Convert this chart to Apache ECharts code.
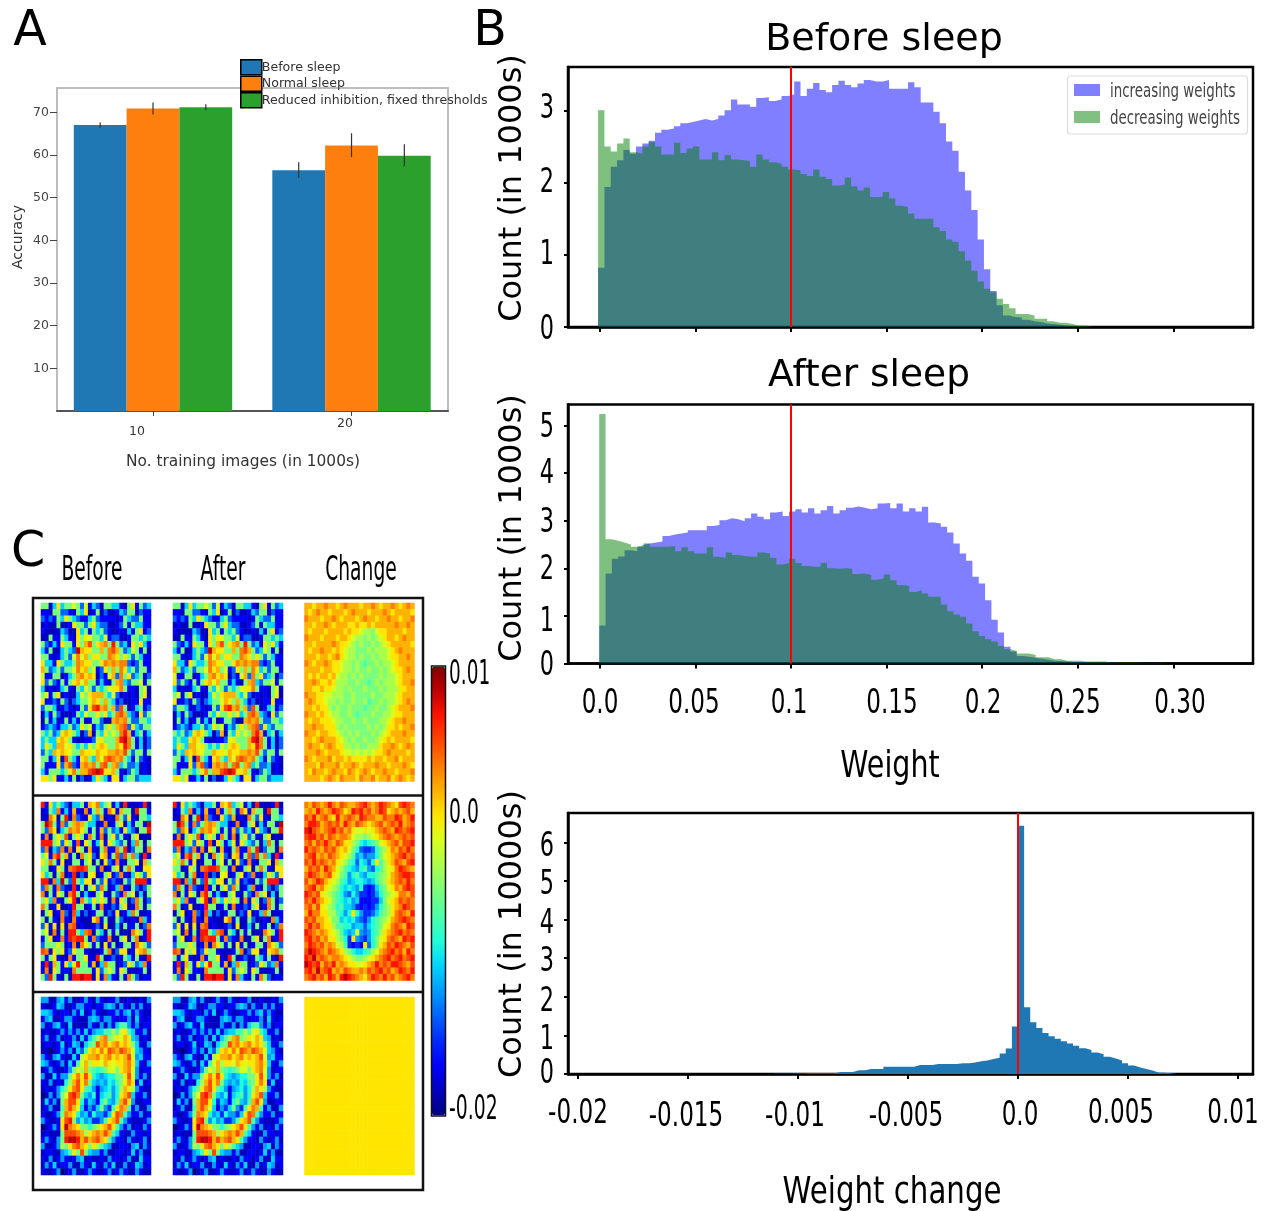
<!DOCTYPE html>
<html><head><meta charset="utf-8">
<style>html,body{margin:0;padding:0;background:#fff}#c{width:1270px;height:1211px;filter:blur(0.6px)}</style>
<script src="https://cdn.jsdelivr.net/npm/echarts@6/dist/echarts.min.js"></script>
</head><body><div id="c"></div>
<script>
// ---------- Panel A ----------
const accGroups = [10, 20];
const accBefore = [67.0, 56.4];
const accNormal = [70.9, 62.2];
const accReduced = [71.2, 59.8];
const accErrLow = [[66.4, 54.6], [69.5, 59.5], [70.5, 57.3]];
const accErrHigh = [[67.6, 58.3], [72.3, 65.1], [71.9, 62.5]];
const accYTicks = [10, 20, 30, 40, 50, 60, 70];

// ---------- Panel B histograms (counts in 1000s, 10000s for the last one) ----------
const histBinWidth = 0.00331;
const incBefore = [.82,1.94,2.22,2.31,2.45,2.4,2.5,2.54,2.58,2.69,2.73,2.75,2.78,2.82,2.84,2.86,2.88,2.86,2.88,2.93,3.0,3.15,3.08,3.08,3.05,3.17,3.18,3.13,3.15,3.2,3.22,3.4,3.2,3.3,3.38,3.28,3.25,3.35,3.41,3.35,3.32,3.37,3.42,3.4,3.4,3.42,3.3,3.3,3.3,3.39,3.32,3.11,3.11,2.98,2.82,2.57,2.44,2.15,1.89,1.62,1.21,.8,.5,.3,.16,.14,.13,.1,.08,.07,.05,.04,.03,.02,.01];
const decBefore = [3.0,2.5,2.43,2.54,2.61,2.42,2.4,2.5,2.56,2.5,2.39,2.39,2.55,2.41,2.47,2.5,2.32,2.32,2.42,2.31,2.38,2.32,2.31,2.3,2.22,2.39,2.32,2.28,2.26,2.22,2.18,2.17,2.12,2.09,2.18,2.08,2.05,1.96,1.97,2.07,1.95,1.89,1.93,1.8,1.8,1.87,1.78,1.68,1.66,1.57,1.5,1.5,1.5,1.38,1.33,1.21,1.18,1.05,.92,.78,.63,.53,.48,.39,.32,.26,.18,.18,.16,.115,.115,.08,.06,.06,.04,.02,.02,.01];
const incAfter = [.8,1.89,2.2,2.25,2.38,2.36,2.45,2.52,2.54,2.56,2.68,2.71,2.73,2.75,2.8,2.8,2.8,2.89,2.91,3.01,3.05,3.03,2.99,3.05,3.15,3.08,3.03,3.17,3.19,3.1,3.19,3.24,3.17,3.26,3.15,3.22,3.31,3.15,3.22,3.27,3.3,3.27,3.24,3.26,3.36,3.37,3.26,3.36,3.19,3.26,3.19,3.29,2.96,2.94,2.87,2.75,2.52,2.31,2.16,1.82,1.68,1.33,.92,.65,.35,.25,.16,.14,.12,.1,.08,.06,.05,.04,.03,.03,.03,.02,.02,.02,.02,.01,.01,.01,.01,.01,.01,.01,.01];
const decAfter = [5.24,2.61,2.58,2.54,2.5,2.45,2.49,2.52,2.45,2.45,2.45,2.47,2.36,2.44,2.36,2.31,2.31,2.44,2.24,2.22,2.33,2.28,2.26,2.24,2.24,2.33,2.31,2.22,2.08,2.11,2.2,2.11,2.05,2.03,2.03,2.11,2.0,1.99,2.0,1.99,1.88,1.89,1.86,1.76,1.79,1.87,1.75,1.65,1.63,1.5,1.54,1.47,1.4,1.4,1.24,1.1,1.03,.98,.84,.68,.58,.51,.46,.37,.3,.26,.21,.21,.18,.13,.13,.09,.09,.06,.06,.06,.04,.04,.04,.04,.02,.02,.02,.02,.02,.01,.01,.01,.01,.01];
const changeBinWidth = 0.000278;
const changeFirstBin = -40;
const weightChange = [.005,.005,.005,.01,.01,.02,.02,.02,.02,.02,.05,.05,.05,.1,.1,.13,.13,.13,.19,.19,.19,.19,.19,.23,.23,.23,.26,.26,.26,.26,.28,.28,.3,.33,.35,.39,.42,.53,.66,1.23,6.43,1.73,1.34,1.19,1.06,.98,.91,.85,.79,.73,.67,.62,.56,.51,.45,.4,.35,.28,.22,.17,.13,.09,.04,.03,.02,.01];

const weightTicks = [0, .05, .1, .15, .2, .25, .3];
const weightTickLabels = ['0.0','0.05','0.1','0.15','0.2','0.25','0.30'];
const changeTicks = [-.02, -.015, -.01, -.005, 0, .005, .01];
const changeTickLabels = ['-0.02','-0.015','-0.01','-0.005','0.0','0.005','0.01'];
const meanMarkBefore = 0.0985;
const meanMarkAfter = 0.099;
const zeroChangeMark = 0;

// ---------- Panel C images: one base-19 jet level per pixel, 'c' is exactly 0 on the colour bar ----------
const before1 = [
"9916c69 9b94b26 4199662 19c2946","2219944 2196c12 9141126 4991422","424296c 9642269 4222212 9644922","1211911 2c9949c 6441124 9296622",
"2111164 11c6929 6942112 1629c24","1192296 21c9cb9 96b2441 1299696","94262c9 92c9df9 cde9g94 62c9c62","6291169 64hdcc9 9d9efd9 46b9291",
"9921269 4bebd9c c99edc9 c949622","c662c96 69edcc9 9cedede e424922","d946949 9becd9b 24c9d9e c694992","b229912 69decdc 142bd4e 9c46914",
"c494292 9cdbd99 26219de 6499b29","6121269 2196b94 969bcce 92219b1","9b29c12 116b9cd dd96b41 21219c1","c224294 14699bd c9d9624 1122c22",
"4996124 21294cf gde9d4f 9126924","1629411 1296b99 c9c69ef d642c49","1926129 2629129 9411ded e944996","2464266 946c9b2 649c9de f4c6499",
"96946cd c9614d1 96c9b9e gd26926","6966cdc 9211224 bc999dg he92614","6c96ddb c9696b9 cdc99dc ge92614","496dcdc b99dccb dccdded f949929",
"9926c1f 962cd96 dbefede 9629421","9222c4d f42dede 9ef9de6 9446121","6299969 ce9ddfg hgccd92 1496121","cc9c226 2914126 c962cc2 6994666"];
const after1 = before1;
const change1 = [
"ddcdded dcdeddd cddedcd dedcded","dcdeddc dddcded ddcddde dcddddc","edddcdd edcdddc deddcdd eddcdde","ddcdded cdddccd ccdcddd ddedded",
"dcdddcd dddcdcc baa9bcc ddddcdd","edddcdd dcddcba a9a9abc ddcdedd","ddcdddd edccba9 a99a9ab cdddddc","dcddedd cdcbaa9 99a9aaa bcdeddd",
"dddcddc decbaa9 a99a9aa bccdded","edcdded ccbaa9a 9899a9a abcdddd","ddddcdd ccbaa9a 99a99a9 abccded","dcdcddc dbaa9a9 a9999a9 aabcddd",
"ddedccd caaa99a 9989a9a aabcdde","ddccdcc baa9a99 9a999a9 aaaccdd","eddccbb aaa99a9 999a99a aabcddd","dedccba a9a99a9 9a899a9 aabcded",
"ddcdcca 9a99a99 9899a99 abcddde","eddcdcb aa99a98 999a99a abccddd","dcddccc baa99a9 9a999aa bcddedd","ddeddcc ca9a999 99a9a9a ccdcdde",
"eddcddc cba9a9a 999a9ab cdddedd","ddcdedd dcba9a9 9a99abc dcddddc","deddcde dccaa9a 99aaacd dedcded","dddedcd ddcbbab ababccd eddddcd",
"edcddde cddcdcc ccdcddc ddecddd","dddcedd decdded cdddedd cdddedc","dceddcd eddcedc dedcdde ddcddde","ddddcde dcedddc eddecdd ecdedcd"];
const before2 = [
"g2c6964 16692dc e69b261 g1112g1","1296e26 2d21e29 d92ec2d 991g992","11ec19g 1e421c6 4d121e9 4c21996","9hf92e4 9ded966 12e129c 162992h",
"94ec169 edec929 2d49462 c64199g","2e19c9f 29c92e9 2e19c49 219c111","ggg9b4c 92f1c92 6c2c964 916e919","4e164e2 e1c91d2 19e22e9 g14991e",
"9b2eg9d 291e9c4 1cd29f4 f9e61g2","c9e92c1 19929b1 91c42e2 199c1d9","9912c91 efggf99 2e129c1 9e921cc","c6919e1 2g141bc 129c24e 216c94c",
"gg1e6h9 4g96cc1 94c2421 949ggg2","4e92e42 1g2919c 4e9126e 2194149","e192c91 eg92621 9b21942 e9c1619","9c6e219 cg1e96c 9c91e2c 914e914",
"e912c11 2g99129 1e21429 c12e919","19c12e4 1f61412 99142c1 26e9112","91921e2 1e2111c e291194 1121e62","4c2c1c1 ef12112 41c1161 922914e",
"9b1e191 gg96ef1 9619291 11ec92g","29c12e2 gfgg92e 421e119 c19e12g","4999c91 2e1ec92 91c2912 992ec94","fe1c9c2 4c99211 129e14c c12cde9",
"929c211 e299c21 g912412 962921g","2g2d92c 6cg992d 16e9912 4c946e2","2e1c922 1e99992 c49b92c 9111291","94g9219 1gghgg1 c2e6219 2e94122"];
const after2 = before2;
const change2 = [
"edfedeg edfedde fgedegf edcfgfe","dedgede gfecdgf gefdegf cdedefd","fegdefd cgdefed gfeeddf eegfdeg","eggfdef efdgedf edcdefd efegdef",
"ghfedef gefdecb bcbcdef edgfefg","fggefdf edeedba a9abcde fedefef","efdfege dfecca9 76789bc defdffg","gefedfe fdcdb97 433479a cedfege",
"efgdedf edcba85 645579b cdefgef","fegefed ecba874 7647c8a cdfedfg","dfefdge dba8765 785478a bcegfed","egfedef cb98578 657789a bdefggf",
"fdegfdc ba87567 765689a cdefege","efgdecb a976765 7323689 bcedfgf","gfefcba 9875475 3323579 abceedf","fegedcb 9876756 2223369 bcdfefe",
"efdfcba 9786653 2323579 acdegfe","dgeecca a8757c7 5334689 acefedg","fefddcb 9967675 435789a bdefgfe","egefdcc a887756 646789b cefedgf",
"gfededc ba8656b 54578ac defgefe","fgefdec ca973c5 43579bc efedgfg","egfefde dba8323 2c479cd fegfedf","fhgfedf edca976 678abde fgefdge",
"gfhefed eedcba9 9abcdef gefgefg","hgfgdfe gdedccb bcdegef eggfedf","fgehefg dedfedd edfefge fdegfeg","efgefdg fdghgfe dcegfeg efdefge"];
const before3 = [
"5511562 5112521 5212251 1211215","2112651 1255221 2256515 2152512","6652122 1526125 2112252 5625211","2561125 5211156 5255212 2516212",
"5125621 6111152 1515268 8525122","1211252 5252625 6688a8b c862251","2512512 2516268 ade9acb dc65121","1221261 2651689 fdecdec dc96215",
"1101252 51648cd cecfedf edb6521","5215621 162acdd ecdecdc dfb5622","6521251 628bdac cbdcbcc dec6215","1252112 59bad98 789bb9c deb5122",
"5116255 9cecfc7 6567799 cfb5251","2151217 adfce96 5657689 cec2612","1212579 cefc875 256757a dca5211","015159b fge9657 267857c df62251",
"162519d ffc7365 279658d fc51122","125118d fdb6253 69538ce d825115","211259e dc75637 5536cfe 8522512","52112cf g957563 358cdf8 5211125",
"01252ch edc9979 acdfc85 2512152","121119f ffedacd edfd862 1152212","252159g hhgdfde fdc8522 1521251","51125a9 cefdc9c a865112 2156152",
"1221156 8c9f965 5251122 1262511","2151252 1256121 1215221 2511622","1526122 5115216 2152611 5126512","2112501 2511252 1125125 2115211"];
const after3 = before3;
const change3Row = "cccccccccccccccccccccccccccc";
const change3 = [change3Row,change3Row,change3Row,change3Row,change3Row,change3Row,change3Row,change3Row,change3Row,change3Row,change3Row,change3Row,change3Row,change3Row,change3Row,change3Row,change3Row,change3Row,change3Row,change3Row,change3Row,change3Row,change3Row,change3Row,change3Row,change3Row,change3Row,change3Row];
const colorBarMin = -0.02, colorBarMax = 0.01;
const jet = ['#000080','#0000c0','#0000ff','#002aff','#0063ff','#009cff','#00d4ff','#20ffd7','#4dffa9','#7bff7b','#a9ff4e','#d7ff20','#ffe600','#ffb200','#ff7d00','#ff4800','#ff1400','#c00000','#800000'];

// ---------- layout ----------
const heatCols = [[41,110],[173,110],[304.5,110]];
const heatRows = [[603,178.5],[802,178.5],[997,178]];
const heatMatrices = [[before1,after1,change1],[before2,after2,change2],[before3,after3,change3]];

const grids=[],xAxes=[],yAxes=[],series=[];
const hidden={show:false};
function tickAxis(extra){return Object.assign({axisLine:{show:true,onZero:false,lineStyle:{color:'#000',width:2.5}},axisTick:{show:true,length:5,lineStyle:{color:'#000',width:2}},axisLabel:{show:false},splitLine:{show:false}},extra);}

// grid 0: panel A
grids.push({left:57,top:88,width:391,height:323,show:true,borderColor:'#bdbdbd',borderWidth:2,backgroundColor:'#fff'});
xAxes.push({type:'value',gridIndex:0,min:5.164,max:24.86,splitLine:hidden,axisLine:{show:true,onZero:false,lineStyle:{color:'#555',width:2}},
  axisTick:{show:true,length:5,customValues:accGroups,lineStyle:{color:'#444',width:1}},axisLabel:{show:false}});
yAxes.push({type:'value',gridIndex:0,min:0,max:75.7,splitLine:hidden,axisLine:hidden,
  axisTick:{show:true,length:7,customValues:accYTicks,lineStyle:{color:'#444',width:1}},
  axisLabel:{show:true,customValues:accYTicks,fontFamily:'DejaVu Sans',fontSize:12.5,color:'#444',margin:8}});
const barColors=['#1f77b4','#ff7f0e','#2ca02c'];
[['Before sleep',accBefore],['Normal sleep',accNormal],['Reduced inhibition, fixed thresholds',accReduced]].forEach(([name,vals],i)=>{
  series.push({name,type:'bar',xAxisIndex:0,yAxisIndex:0,barWidth:52.8,barGap:0,itemStyle:{color:barColors[i]},
    data:vals.map((v,k)=>[accGroups[k],v])});
});
const errData=[];accErrLow.forEach((row,s)=>row.forEach((lo,k)=>errData.push([accGroups[k],lo,accErrHigh[s][k],s-1])));
series.push({type:'custom',xAxisIndex:0,yAxisIndex:0,silent:true,z:5,data:errData,encode:{x:0,y:[1,2]},
  renderItem(params,api){const a=api.coord([api.value(0),api.value(1)]),b=api.coord([api.value(0),api.value(2)]),dx=api.value(3)*52.8;
    return {type:'line',shape:{x1:a[0]+dx,y1:a[1],x2:b[0]+dx,y2:b[1]},style:{stroke:'#333',lineWidth:1.2}};}});

// grids 1-3: panel B
function histPoints(vals,start,w){const p=vals.map((v,i)=>[start+i*w,v]);p.push([start+vals.length*w,0]);return p;}
function histSeries(name,vals,start,w,color,gi,mark){
  const s={name,type:'line',step:'end',xAxisIndex:gi,yAxisIndex:gi,showSymbol:false,symbol:'none',silent:true,
    lineStyle:{width:0},areaStyle:{color,opacity:.5},data:histPoints(vals,start,w)};
  if(mark!==undefined)s.markLine={silent:true,symbol:'none',label:{show:false},animation:false,lineStyle:{color:'#f00',width:2,type:'solid'},data:[{xAxis:mark}]};
  return s;}
function addHistGrid(top,height,xmin,xmax,ymax,xt,yt){
  const gi=grids.length;
  grids.push({left:568,top,width:685,height,show:true,borderColor:'#000',borderWidth:2.5});
  xAxes.push(tickAxis({type:'value',gridIndex:gi,min:xmin,max:xmax,axisTick:{show:true,length:5,customValues:xt,lineStyle:{color:'#000',width:2}}}));
  yAxes.push(tickAxis({type:'value',gridIndex:gi,min:0,max:ymax,axisTick:{show:true,length:4,customValues:yt,lineStyle:{color:'#000',width:2}}}));
  return gi;}
const wmin=(568-600)/1911,wmax=(1253-600)/1911;
let g=addHistGrid(67,260,wmin,wmax,3.6,weightTicks,[0,1,2,3]);
series.push(histSeries('increasing weights',incBefore,-.001,histBinWidth,'#0000ff',g));
series.push(histSeries('decreasing weights',decBefore,-.001,histBinWidth,'#008000',g,meanMarkBefore));
g=addHistGrid(404.5,259,wmin,wmax,5.44,weightTicks,[0,1,2,3,4,5]);
series.push(histSeries('increasing weights after',incAfter,-.0004,histBinWidth,'#0000ff',g));
series.push(histSeries('decreasing weights after',decAfter,-.0004,histBinWidth,'#008000',g,meanMarkAfter));
g=addHistGrid(813,261,(568-1018)/22000,(1253-1018)/22000,6.76,changeTicks,[0,1,2,3,4,5,6]);
{const s=histSeries('weight change',weightChange,changeFirstBin*changeBinWidth,changeBinWidth,'#1f77b4',g,zeroChangeMark);s.areaStyle.opacity=1;series.push(s);}

// grids 4+: panel C
const idx28=Array.from({length:28},(_,i)=>i);
const heatSeriesIdx=[];
heatRows.forEach((r,ri)=>heatCols.forEach((c,ci)=>{
  const gi=grids.length;
  grids.push({left:c[0],top:r[0],width:c[1],height:r[1],show:false});
  xAxes.push({type:'category',gridIndex:gi,data:idx28,show:false});
  yAxes.push({type:'category',gridIndex:gi,data:idx28,show:false,inverse:true});
  const rows=heatMatrices[ri][ci].map(s=>s.replace(/ /g,''));
  const data=[];
  rows.forEach((row,y)=>{for(let x=0;x<28;x++){const lv=parseInt(row[x],19);data.push([x,y,colorBarMin+(colorBarMax-colorBarMin)*lv/18]);}});
  heatSeriesIdx.push(series.length);
  series.push({type:'heatmap',xAxisIndex:gi,yAxisIndex:gi,silent:true,progressive:0,data,itemStyle:{borderWidth:0}});
}));

// text
const gfx=[];
function txt(text,x,y,size,sx,opts){opts=opts||{};
  const off=size*.08;
  gfx.push({type:'text',x:opts.rot?x+off:x,y:opts.rot?y:y+off,rotation:opts.rot||0,scaleX:sx,scaleY:1,z:200,silent:true,
    style:{text,fontFamily:'DejaVu Sans',fontSize:size,fill:opts.fill||'#000',align:opts.align||'center',verticalAlign:'middle',textAlign:opts.align||'center',textVerticalAlign:'middle'}});}
txt('A',30,28,49,1);txt('B',490,28,49,1);txt('C',28,549,49,1);
txt('Before sleep',884,37,38,1);txt('After sleep',869,373,37.5,1);
txt('Count (in 1000s)',510,188,32,1,{rot:Math.PI/2});
txt('Count (in 1000s)',510,528,32,1,{rot:Math.PI/2});
txt('Count (in 10000s)',510,934,32,1,{rot:Math.PI/2});
txt('Weight',890,764,38,.75);txt('Weight change',892,1190,38,.77);
const weightLabelX=[600,694,789,892,983,1075,1180];
weightTickLabels.forEach((t,i)=>txt(t,weightLabelX[i],702,33,.7));
const changeLabelX=[578,686,795,906,1020,1121,1233],changeLabelY=[1112,1115,1115,1115,1114,1112,1112];
changeTickLabels.forEach((t,i)=>txt(t,changeLabelX[i],changeLabelY[i],33,.7));
[['3',107],['2',181],['1',253],['0',328],['5',426],['4',472],['3',521],['2',568],['1',620],['0',664],['6',845],['5',883],['4',922],['3',960],['2',1000],['1',1038],['0',1072]]
  .forEach(([t,y])=>txt(t,547,y,33,.68));
txt('Before',92,568,34,.55);txt('After',223,568,34,.55);txt('Change',361,568,34,.55);
txt('0.01',449,673,33,.56,{align:'left'});txt('0.0',449,812,33,.57,{align:'left'});txt('-0.02',449,1108,33,.57,{align:'left'});
txt('Accuracy',17,237,14,1,{rot:Math.PI/2,fill:'#333'});
txt('No. training images (in 1000s)',243,461,15.4,1,{fill:'#333'});
txt('10',137,431,12.5,1,{fill:'#333'});txt('20',345,423,12.5,1,{fill:'#333'});
// B legend
gfx.push({type:'rect',z:150,silent:true,shape:{x:1067.5,y:76,width:180,height:58,r:3},style:{fill:'rgba(255,255,255,.85)',stroke:'#ddd',lineWidth:1.2}});
gfx.push({type:'rect',z:151,silent:true,shape:{x:1074,y:84,width:26,height:12},style:{fill:'#8080ff'}});
gfx.push({type:'rect',z:151,silent:true,shape:{x:1074,y:111,width:26,height:12},style:{fill:'#80c080'}});
txt('increasing weights',1110,90,20,.67,{align:'left',fill:'#444'});
txt('decreasing weights',1110,117,20,.67,{align:'left',fill:'#444'});
// C frame and colour bar outline
gfx.push({type:'rect',z:150,silent:true,shape:{x:33,y:598,width:390,height:592},style:{fill:'none',stroke:'#111',lineWidth:2.5}});
gfx.push({type:'line',z:150,silent:true,shape:{x1:33,y1:795.5,x2:423,y2:795.5},style:{stroke:'#111',lineWidth:2.5}});
gfx.push({type:'line',z:150,silent:true,shape:{x1:33,y1:992,x2:423,y2:992},style:{stroke:'#111',lineWidth:2.5}});
gfx.push({type:'rect',z:150,silent:true,shape:{x:431.5,y:666,width:14,height:450},style:{fill:'none',stroke:'#111',lineWidth:1.5}});

const chart=echarts.init(document.getElementById('c'),null,{width:1270,height:1211,renderer:'canvas'});
chart.setOption({animation:false,backgroundColor:'#fff',grid:grids,xAxis:xAxes,yAxis:yAxes,series,graphic:gfx,
  legend:{left:240,top:59,orient:'vertical',padding:0,itemWidth:21,itemHeight:15,itemGap:0,icon:'rect',z:20,selectedMode:false,
    data:['Before sleep','Normal sleep','Reduced inhibition, fixed thresholds'],
    itemStyle:{borderColor:'#000',borderWidth:1.5},textStyle:{fontFamily:'DejaVu Sans',fontSize:12.6,color:'#333',padding:[0,0,0,-5]}},
  visualMap:{type:'continuous',seriesIndex:heatSeriesIdx,min:colorBarMin,max:colorBarMax,left:432,top:666.5,itemWidth:13,itemHeight:449,padding:0,calculable:false,text:null,showLabel:false,
    inRange:{color:jet},textStyle:{fontSize:0},hoverLink:false}
});
</script></body></html>
